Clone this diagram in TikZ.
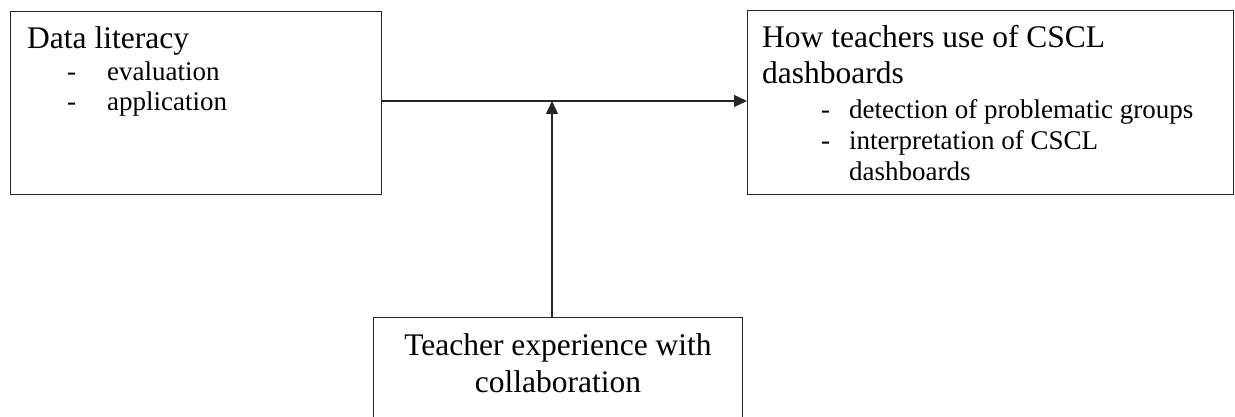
\documentclass[tikz,border=0pt]{standalone}
\usepackage{fontspec}
\setmainfont{Liberation Serif}
\usetikzlibrary{arrows.meta}
\tikzset{
  box/.style={draw=black!85, line width=1.2pt, rectangle, inner sep=0pt, anchor=north west},
  head/.style={inner sep=0pt, font=\fontsize{31.5}{37}\selectfont},
  item/.style={inner sep=0pt, anchor=base west, font=\fontsize{27}{32}\selectfont},
  conn/.style={draw=black!85, line width=1.2pt, -{Triangle[length=13pt,width=12pt]}}
}
\begin{document}
\begin{tikzpicture}[x=1pt,y=-1pt]
\useasboundingbox (0,0) rectangle (1235,417);
% boxes
\node[box, minimum width=371pt, minimum height=183pt] (lit) at (10,11) {};
\node[box, minimum width=486pt, minimum height=184pt] (use) at (747,10) {};
\node[box, minimum width=369pt, minimum height=150pt] (exp) at (373,317) {};
% texts left
\node[head, anchor=base west] (t1) at (27,49) {Data literacy};
\node[item] (d1) at (67,81) {-};
\node[item] (i1) at (107,81) {evaluation};
\node[item] (d2) at (67,111) {-};
\node[item] (i2) at (107,111) {application};
% texts right
\node[head, anchor=base west] (t2) at (762,48) {How teachers use of CSCL};
\node[head, anchor=base west] (t3) at (762,84) {dashboards};
\node[item] (d3) at (821,119) {-};
\node[item] (i3) at (849,119) {detection of problematic groups};
\node[item] (d4) at (821,150) {-};
\node[item] (i4) at (849,150) {interpretation of CSCL};
\node[item] (i5) at (849,181) {dashboards};
% texts bottom
\node[head, anchor=base] (t4) at (558,355) {Teacher experience with};
\node[head, anchor=base] (t5) at (558,392) {collaboration};
% connectors
\coordinate (j) at (552,101);
\draw[conn] (lit.east |- j) -- (use.west |- j);
\draw[conn] (j |- exp.north) -- (j);
\end{tikzpicture}
\end{document}
